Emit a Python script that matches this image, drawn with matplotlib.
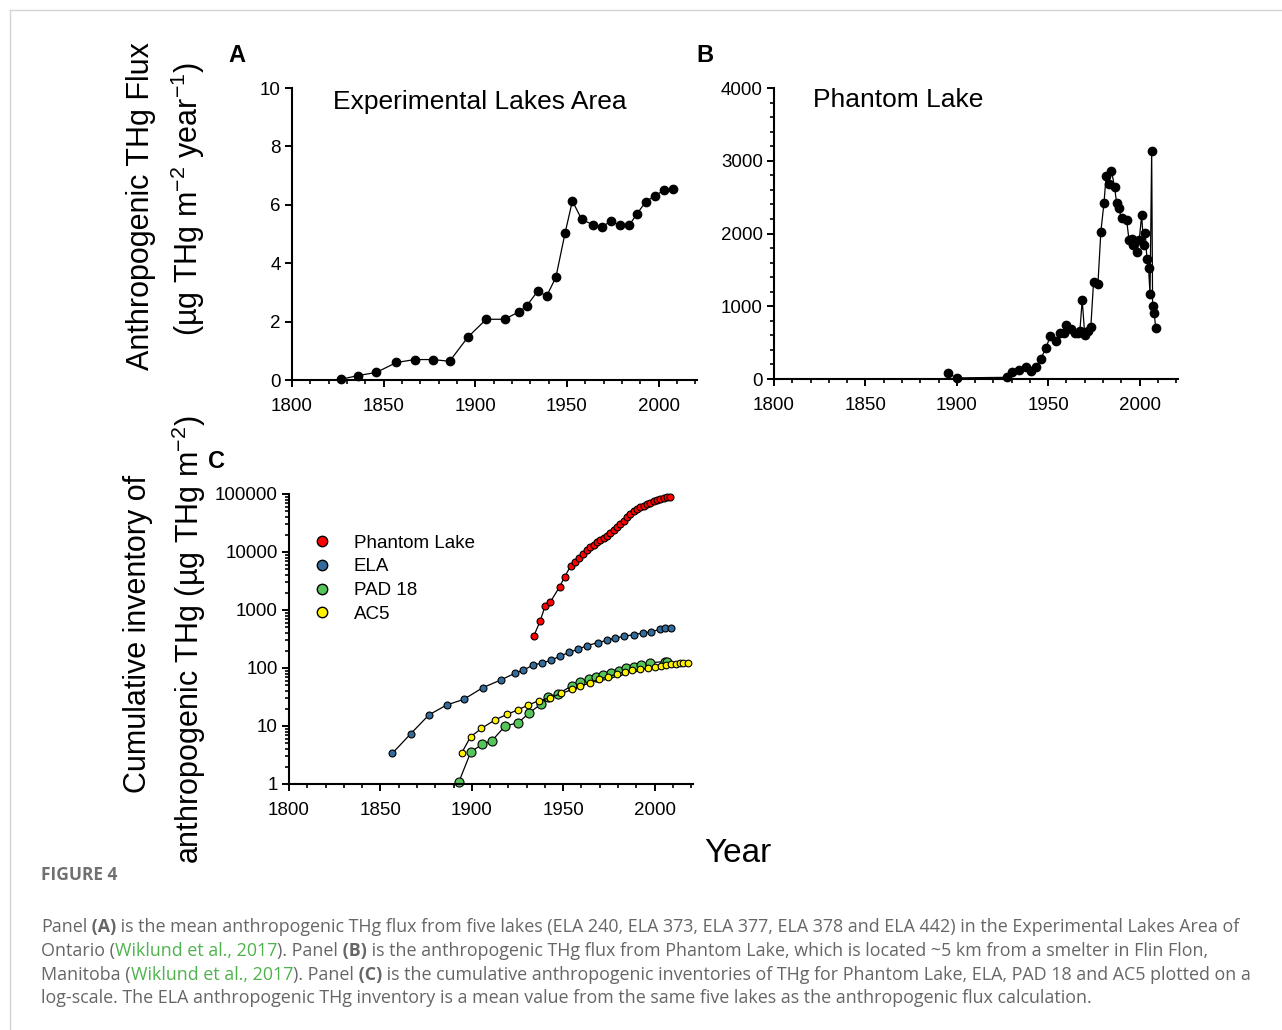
import matplotlib
matplotlib.use("Agg")
import matplotlib.pyplot as plt
from matplotlib.lines import Line2D
from matplotlib.ticker import MultipleLocator, LogLocator, FixedLocator, NullFormatter

plt.rcParams["font.family"] = ["Liberation Sans", "DejaVu Sans"]
plt.rcParams["mathtext.fontset"] = "custom"
plt.rcParams["mathtext.rm"] = "Liberation Sans"
plt.rcParams["mathtext.it"] = "Liberation Sans:italic"

# ---- Panel A: ELA anthropogenic THg flux ----
ela_flux_year = [1827, 1836, 1846, 1857, 1867, 1877, 1886, 1896, 1906, 1916, 1924, 1928,
                 1934, 1939, 1944, 1949, 1953, 1958, 1964, 1969, 1974, 1979, 1984, 1988,
                 1993, 1998, 2003, 2008]
ela_flux = [0.03, 0.15, 0.26, 0.6, 0.7, 0.7, 0.64, 1.47, 2.08, 2.08, 2.34, 2.53,
            3.04, 2.88, 3.52, 5.03, 6.13, 5.51, 5.32, 5.25, 5.43, 5.3, 5.3, 5.67,
            6.1, 6.31, 6.5, 6.54]

# ---- Panel B: Phantom Lake anthropogenic THg flux ----
ph_flux_year = [1895, 1900, 1927.5, 1930.4, 1934, 1937.7, 1940.8, 1943.4, 1945.8, 1948.7,
                1951.2, 1954.5, 1956.7, 1958.5, 1960, 1962.2, 1964.4, 1966.2, 1967.3, 1968.6,
                1970, 1971.7, 1973.3, 1974.8, 1977.2, 1978.8, 1980.5, 1981.7, 1983, 1984.6,
                1986.3, 1987.4, 1988.5, 1990.1, 1992.9, 1994.2, 1995.6, 1996.5, 1998.7, 1999.8,
                2001.1, 2002.2, 2003.1, 2004, 2004.9, 2005.7, 2006.6, 2007.1, 2008, 2008.8]
ph_flux = [80, 15, 23, 100, 124, 165, 114, 170, 270, 422,
           595, 527, 637, 637, 742, 683, 637, 637, 655, 1086,
           605, 660, 710, 1333, 1306, 2025, 2415, 2795, 2680, 2863,
           2640, 2424, 2350, 2209, 2186, 1911, 1925, 1842, 1750, 1911,
           2250, 1842, 2011, 1645, 1521, 1168, 3134, 1003, 903, 697]

# ---- Panel C: cumulative inventories ----
ph_cum_year = [1934, 1937.4, 1940, 1942.8, 1948, 1950.8, 1954, 1956.3, 1958.5, 1960.8,
               1963, 1964.9, 1966.7, 1968.5, 1970.3, 1972.1, 1973.9, 1975.8, 1977.6, 1979.4,
               1981.3, 1983.1, 1984.9, 1986.7, 1988.5, 1990.3, 1992.2, 1994, 1995.8, 1997.6,
               1999.5, 2001.3, 2003.1, 2004.9, 2006.7, 2008.6]
ph_cum = [361, 646, 1150, 1350, 2500, 3740, 5700, 6800, 7800, 9240,
          10700, 12000, 13400, 14800, 16100, 17400, 19000, 21000, 24000, 26800,
          30000, 34000, 39500, 44600, 50000, 55000, 59000, 63000, 67000, 70600,
          74500, 77500, 80800, 84000, 87600, 89800]

ela_cum_year = [1856.6, 1866.5, 1876.5, 1886.2, 1895.6, 1906, 1915.8, 1923.5, 1928.2, 1933.7,
                1938.6, 1943.5, 1948.5, 1953.2, 1958.1, 1963, 1968.9, 1973.8, 1978.5, 1983.4,
                1988.5, 1993.6, 1998.2, 2003.1, 2005.6, 2009]
ela_cum = [3.4, 7.3, 15.5, 23, 28.8, 45.8, 62, 81, 92, 113,
           122, 137, 161, 186, 210, 243, 273, 300, 329, 352,
           376, 401, 422, 464, 480, 495]

pad_year = [1893, 1899.5, 1905.6, 1911.1, 1918.2, 1925.5, 1931.5, 1937.7, 1941.7, 1947.4,
            1954.8, 1959, 1964, 1967.8, 1971.8, 1976.3, 1980.5, 1984.5, 1988.5, 1992.7,
            1997.3, 2005.5, 2007]
pad_cum = [1.1, 3.6, 4.8, 5.6, 10, 11.4, 17, 23.6, 32, 36,
           49.6, 57, 64, 71, 76, 83, 90, 99, 105, 113,
           123, 129, 126]

ac5_year = [1894.4, 1899.3, 1905.3, 1912.6, 1919.3, 1925.1, 1930.6, 1936.8, 1943, 1949,
            1955, 1959, 1964.5, 1969.4, 1974.7, 1979.4, 1983.8, 1987.8, 1992.2, 1996.3,
            2000.2, 2003.6, 2006.4, 2009.1, 2011.5, 2013.7, 2015.8, 2018]
ac5_cum = [3.4, 6.5, 9.1, 12.7, 15.9, 18.9, 22.8, 27.4, 30.8, 36.5,
           42.7, 49, 54.5, 64, 71, 79, 86, 91, 95, 99,
           104, 108, 112, 115, 117, 120, 122, 123]

W, H = 1282, 1030
fig = plt.figure(figsize=(W / 100, H / 100), dpi=100)


def px_axes(left, top, right, bottom):
    return fig.add_axes([left / W, 1 - bottom / H, (right - left) / W, (bottom - top) / H])


def style_axes(ax):
    for s in ["top", "right"]:
        ax.spines[s].set_visible(False)
    for s in ["left", "bottom"]:
        ax.spines[s].set_linewidth(1.5)
    ax.tick_params(which="major", direction="out", length=5, width=1.4, labelsize=13.5, pad=3)
    ax.tick_params(which="minor", direction="out", length=3, width=1.2)
    ax.tick_params(axis="x", which="major", pad=8)
    ax.set_xlim(1800, 2021)
    ax.xaxis.set_major_locator(FixedLocator([1800, 1850, 1900, 1950, 2000]))
    ax.xaxis.set_minor_locator(MultipleLocator(10))


# (A)
axA = px_axes(292, 88, 697, 380)
style_axes(axA)
axA.plot(ela_flux_year, ela_flux, "-o", color="black", lw=0.9, ms=6, clip_on=False)
axA.set_ylim(0, 10)
axA.yaxis.set_major_locator(MultipleLocator(2))

# (B)
axB = px_axes(774, 88, 1178, 379)
style_axes(axB)
axB.plot(ph_flux_year, ph_flux, "-o", color="black", lw=0.9, ms=6, clip_on=False)
axB.set_ylim(0, 4000)
axB.yaxis.set_major_locator(MultipleLocator(1000))
axB.yaxis.set_minor_locator(MultipleLocator(200))

# (C)
axC = px_axes(289, 494, 693, 784)
style_axes(axC)
axC.set_yscale("log")
axC.set_ylim(1, 100000)
axC.yaxis.set_minor_locator(LogLocator(base=10, subs=range(2, 10), numticks=50))
axC.yaxis.set_minor_formatter(NullFormatter())
axC.set_yticks([1, 10, 100, 1000, 10000, 100000])
axC.set_yticklabels(["1", "10", "100", "1000", "10000", "100000"])

axC.plot(ela_cum_year, ela_cum, "-o", color="black", lw=0.9, ms=5,
         mfc="#336b9b", mec="black", mew=0.8, clip_on=False)
axC.plot(pad_year, pad_cum, "-o", color="black", lw=0.9, ms=6.5,
         mfc="#55c55a", mec="black", mew=0.8, clip_on=False)
axC.plot(ac5_year, ac5_cum, "-o", color="black", lw=0.9, ms=4.8,
         mfc="#fff200", mec="black", mew=0.8, clip_on=False)
axC.plot(ph_cum_year, ph_cum, "-o", color="black", lw=0.9, ms=5,
         mfc="#ff0000", mec="black", mew=0.8, clip_on=False)

handles = [Line2D([], [], ls="none", marker="o", ms=7.5, mfc=c, mec="black", mew=1.0)
           for c in ["#ff0000", "#336b9b", "#55c55a", "#fff200"]]
axC.legend(handles, ["Phantom Lake", "ELA", "PAD 18", "AC5"], loc="upper left",
           bbox_to_anchor=(0.058, 0.86), frameon=False, fontsize=13.5,
           handlelength=1.0, handletextpad=1.2, labelspacing=0.35,
           borderpad=0, borderaxespad=0)

# titles, panel letters, axis labels
fig.text(480 / W, 1 - 102 / H, "Experimental Lakes Area", fontsize=19, ha="center", va="center")
fig.text(898 / W, 1 - 100 / H, "Phantom Lake", fontsize=19, ha="center", va="center")
for lab, x, y in [("A", 237, 55), ("B", 705, 55), ("C", 217, 461)]:
    fig.text(x / W, 1 - y / H, lab, fontsize=17, fontweight="bold", ha="center", va="center")

fig.text(141 / W, 1 - 206 / H, "Anthropogenic THg Flux", fontsize=22, rotation=90,
         ha="center", va="center")
fig.text(188 / W, 1 - 199 / H, r"(µg THg m$^{-2}$ year$^{-1}$)", fontsize=22, rotation=90,
         ha="center", va="center")
fig.text(138 / W, 1 - 634 / H, "Cumulative inventory of", fontsize=22, rotation=90,
         ha="center", va="center")
fig.text(189 / W, 1 - 640 / H, r"anthropogenic THg (µg THg m$^{-2}$)", fontsize=22,
         rotation=90, ha="center", va="center")
fig.text(738 / W, 1 - 853 / H, "Year", fontsize=24, ha="center", va="center")

# page frame
fig.add_artist(Line2D([10 / W, 1], [1 - 10 / H, 1 - 10 / H], transform=fig.transFigure,
                      color="#d4d4d4", lw=1))
fig.add_artist(Line2D([10 / W, 10 / W], [0, 1 - 10 / H], transform=fig.transFigure,
                      color="#d4d4d4", lw=1))

# caption
cap = fig.add_axes([0, 0, 1, 1])
cap.axis("off")
cap.set_zorder(-1)
cap_font = ["Open Sans", "DejaVu Sans"]
grey = "#666666"
green = "#4db34d"

fig.text(41 / W, 1 - 875 / H, "FIGURE 4", fontsize=12.5, fontweight="bold", color="#707070",
         family=cap_font, ha="left", va="center")

caption = [
    [("Panel", "n"), (" (A)", "b"),
     (" is the mean anthropogenic THg flux from five lakes (ELA 240, ELA 373, ELA 377, ELA 378 and ELA 442) in the Experimental Lakes Area of", "n")],
    [("Ontario (", "n"), ("Wiklund et al., 2017", "g"), ("). Panel", "n"), (" (B)", "b"),
     (" is the anthropogenic THg flux from Phantom Lake, which is located ~5 km from a smelter in Flin Flon,", "n")],
    [("Manitoba (", "n"), ("Wiklund et al., 2017", "g"), ("). Panel", "n"), (" (C)", "b"),
     (" is the cumulative anthropogenic inventories of THg for Phantom Lake, ELA, PAD 18 and AC5 plotted on a", "n")],
    [("log-scale. The ELA anthropogenic THg inventory is a mean value from the same five lakes as the anthropogenic flux calculation.", "n")],
]
line_y = [927, 951, 975, 998]
for parts, yy in zip(caption, line_y):
    prev = None
    for txt, kind in parts:
        kw = dict(fontsize=12.9, family=cap_font,
                  color=green if kind == "g" else grey,
                  fontweight="bold" if kind == "b" else "normal")
        if prev is None:
            prev = cap.text(41 / W, 1 - yy / H, txt, transform=fig.transFigure,
                            ha="left", va="center", **kw)
        else:
            prev = cap.annotate(txt, xy=(1, 0), xycoords=prev, ha="left", va="bottom", **kw)

fig.savefig("out.png", dpi=100)
